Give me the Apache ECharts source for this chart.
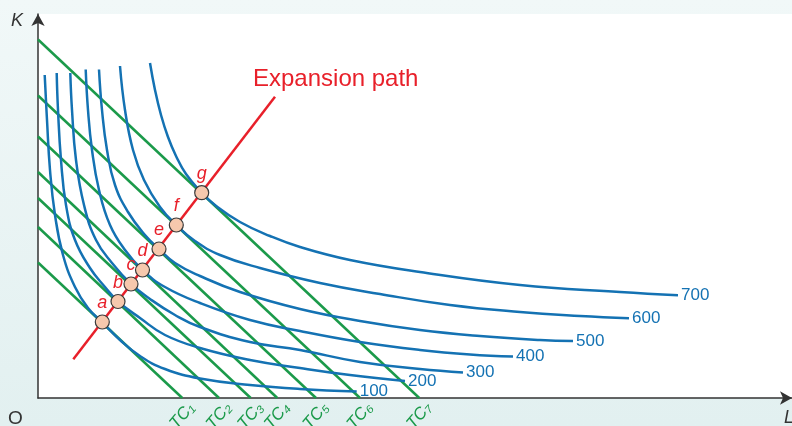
<!DOCTYPE html>
<html>
<head>
<meta charset="utf-8">
<script src="https://cdn.jsdelivr.net/npm/echarts@6/dist/echarts.min.js"></script>
<style>
  html, body { margin: 0; padding: 0; }
  #chart { width: 792px; height: 426px; }
</style>
</head>
<body>
<div id="chart"></div>
<script>
// isoquants as [L, K]
var isoLevels = ['100', '200', '300', '400', '500', '600', '700'];
var iso100 = [[6.7, 323], [9, 278], [12, 228], [17, 183], [25, 143], [37, 111], [50, 90], [64, 76], [82, 58], [102, 42], [127, 29], [162, 19.5], [212, 13], [262, 9], [318.7, 6.5]];
var iso200 = [[18.7, 325], [20, 288], [23, 238], [28, 193], [37, 158], [52, 130], [67, 111], [80, 96.5], [102, 80], [127, 63], [162, 50], [212, 38], [262, 30], [312, 23], [367, 17]];
var iso300 = [[32.3, 325], [34, 288], [38, 238], [46, 193], [58, 158], [74, 135], [93, 114], [112, 99], [137, 83], [162, 71], [212, 56], [262, 48], [322, 36], [382, 29], [425, 25.5]];
var iso400 = [[47.7, 328.5], [50, 288], [54, 248], [61, 208], [72, 173], [87, 148], [104.5, 128], [127, 111], [162, 95], [212, 78], [262, 67], [322, 56], [382, 48], [432, 43.5], [475, 41.5]];
var iso500 = [[61, 328.5], [64, 288], [69, 248], [77, 213], [90, 186], [107, 163], [121, 149], [137, 135], [162, 122], [202, 106], [262, 89], [322, 77], [382, 68], [442, 62], [502, 58], [535, 57]];
var iso600 = [[82, 332], [87, 288], [95, 248], [106, 218], [122, 191], [138.3, 173], [157, 157], [182, 143], [222, 130], [282, 115], [342, 104], [412, 93], [482, 86], [542, 82], [591, 79.7]];
var iso700 = [[112, 335], [117, 308], [123, 283], [130, 261], [138, 242], [148, 224], [163.7, 205.3], [177, 193], [202, 176], [232, 162], [262, 151], [312, 138], [382, 126], [482, 113], [582, 106], [640, 102.7]];
var isoquants = [iso100, iso200, iso300, iso400, iso500, iso600, iso700];

// total cost lines: K intercept and L intercept
var tcNames = ['TC₁', 'TC₂', 'TC₃', 'TC₄', 'TC₅', 'TC₆', 'TC₇'];
var tcK = [135.5, 171, 200, 226, 261.5, 302.5, 358.5];
var tcL = [144.3, 181, 212.7, 239.3, 278, 322, 381.3];

// expansion path and tangency points
var pathLine = [[35.3, 38.7], [237, 301.3]];
var tangentNames = ['a', 'b', 'c', 'd', 'e', 'f', 'g'];
var tangentPoints = [[64.3, 76], [80, 96.5], [93, 114], [104.5, 128], [121, 149], [138.3, 173], [163.7, 205.3]];

var BLUE = '#1472b3';
var GREEN = '#1b9a4a';
var RED = '#e8202a';
var FONT = '"Liberation Sans", Arial, sans-serif';

var series = [];

tcNames.forEach(function (name, i) {
    series.push({
        name: name,
        type: 'line',
        data: [[0, tcK[i]], [tcL[i], 0]],
        symbol: 'none',
        lineStyle: {color: GREEN, width: 2.5},
        z: 2
    });
});

isoLevels.forEach(function (lvl, i) {
    series.push({
        name: lvl,
        type: 'line',
        data: isoquants[i],
        smooth: 0.45,
        symbol: 'none',
        lineStyle: {color: BLUE, width: 2.5},
        endLabel: {
            show: true,
            formatter: lvl,
            color: BLUE,
            fontSize: 17,
            fontFamily: FONT,
            distance: 3
        },
        z: 3
    });
});

series.push({
    name: 'Expansion path',
    type: 'line',
    data: pathLine,
    symbol: 'none',
    lineStyle: {color: RED, width: 2.5},
    z: 4
});

series.push({
    name: 'points',
    type: 'scatter',
    data: tangentPoints.map(function (p, i) {
        return {value: p, name: tangentNames[i]};
    }),
    symbolSize: 14,
    itemStyle: {color: '#f6c8ad', borderColor: '#3a3a3a', borderWidth: 1.2, opacity: 1},
    label: {
        show: true,
        position: 'top',
        distance: 2,
        formatter: '{b}',
        color: RED,
        fontSize: 18,
        fontStyle: 'italic',
        fontFamily: FONT
    },
    z: 5
});

series.push({
    name: 'tcLabels',
    type: 'scatter',
    data: tcL.map(function (l, i) {
        return {value: [l, 0], name: tcNames[i]};
    }),
    symbol: 'rect',
    symbolSize: 0.1,
    itemStyle: {color: GREEN, opacity: 1},
    label: {
        show: true,
        position: [0, 18],
        align: 'center',
        verticalAlign: 'middle',
        rotate: 50,
        formatter: '{b}',
        color: GREEN,
        opacity: 1,
        textBorderWidth: 0,
        fontSize: 17,
        fontStyle: 'italic',
        fontFamily: FONT
    },
    labelLayout: {hideOverlap: false},
    silent: true,
    z: 5
});

var chart = echarts.init(document.getElementById('chart'));
chart.setOption({
    backgroundColor: new echarts.graphic.LinearGradient(0, 0, 0, 1, [
        {offset: 0, color: '#f1f8f8'},
        {offset: 1, color: '#e2f0f0'}
    ]),
    animation: false,
    grid: {
        show: true,
        left: 38,
        right: 0,
        top: 14,
        bottom: 28,
        backgroundColor: '#ffffff',
        borderWidth: 0
    },
    xAxis: {
        type: 'value',
        min: 0,
        max: 754,
        axisLine: {show: true, symbol: ['none', 'arrow'], symbolSize: [10, 12], lineStyle: {color: '#333', width: 1.5}},
        axisTick: {show: false},
        axisLabel: {show: false},
        splitLine: {show: false}
    },
    yAxis: {
        type: 'value',
        min: 0,
        max: 384,
        axisLine: {show: true, symbol: ['none', 'arrow'], symbolSize: [10, 12], lineStyle: {color: '#333', width: 1.5}},
        axisTick: {show: false},
        axisLabel: {show: false},
        splitLine: {show: false}
    },
    graphic: [
        {type: 'text', left: 253, top: 67, style: {text: 'Expansion path', fill: RED, fontSize: 24, fontFamily: FONT}},
        {type: 'text', left: 11, top: 12, style: {text: 'K', fill: '#333', fontSize: 18, fontStyle: 'italic', fontFamily: FONT}},
        {type: 'text', left: 8, top: 409, style: {text: 'O', fill: '#333', fontSize: 19, fontFamily: FONT}},
        {type: 'text', left: 784, top: 409, style: {text: 'L', fill: '#333', fontSize: 18, fontStyle: 'italic', fontFamily: FONT}}
    ],
    series: series
});
</script>
</body>
</html>
